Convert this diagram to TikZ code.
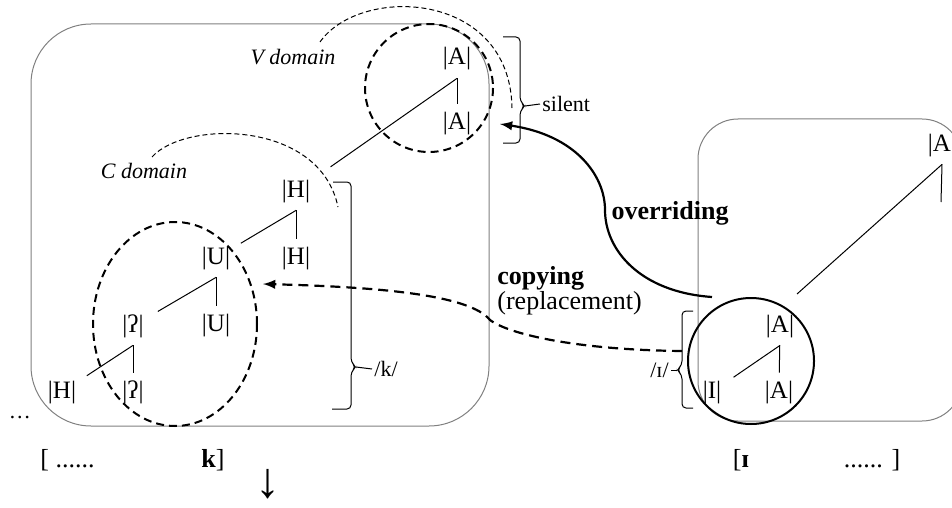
\documentclass[tikz,border=0pt]{standalone}
\usepackage{fontspec}
\setmainfont{Liberation Serif}
\usepackage{tikz}
\tikzstyle{elt}=[inner sep=3.5pt, text height=9pt, text depth=3pt, font=\fontsize{12.5}{14}\selectfont]
\tikzstyle{domain label}=[font=\fontsize{11}{13}\selectfont\itshape]
\tikzstyle{brace label}=[font=\fontsize{11}{13}\selectfont, inner sep=1pt]
\tikzstyle{arrow label}=[font=\fontsize{13}{15}\selectfont, inner sep=0pt]
\tikzstyle{line label}=[font=\fontsize{13}{15}\selectfont, inner sep=0pt]
\tikzstyle{box}=[draw=gray, line width=0.5pt, rounded corners=30pt]
\tikzstyle{tree edge}=[-, line width=0.5pt]
\tikzstyle{domain edge}=[-, dash pattern=on 2.5pt off 1.5pt, line width=0.5pt]
\tikzstyle{group}=[dash pattern=on 4pt off 2.5pt, line width=1pt]
\tikzstyle{bracket}=[-, line width=0.5pt, rounded corners=2pt]
\tikzstyle{override edge}=[-latex, line width=1.1pt]
\tikzstyle{copy edge}=[-latex, dash pattern=on 5pt off 3pt, line width=1.1pt]
\pgfdeclarelayer{nodelayer}
\pgfdeclarelayer{edgelayer}
\pgfsetlayers{edgelayer,nodelayer,main}

\begin{document}
\begin{tikzpicture}[x=0.5pt, y=-0.5pt]
	\useasboundingbox (0,0) rectangle (952,508);
	\clip (0,0) rectangle (952,508);
	\begin{pgfonlayer}{nodelayer}
		\node [style=elt] (0) at (457, 59) {|A|};
		\node [style=elt] (1) at (457, 123) {|A|};
		\node [style=elt] (2) at (296, 191) {|H|};
		\node [style=elt] (3) at (296, 258) {|H|};
		\node [style=elt] (4) at (216, 258) {|U|};
		\node [style=elt] (5) at (216, 325) {|U|};
		\node [style=elt] (6) at (133, 326) {|ʔ|};
		\node [style=elt] (7) at (133, 392) {|ʔ|};
		\node [style=elt] (8) at (62, 392) {|H|};
		\node [style=elt] (9) at (780, 326) {|A|};
		\node [style=elt] (10) at (712, 392) {|I|};
		\node [style=elt] (11) at (779, 392) {|A|};
		\node [style=elt] (12) at (942, 145) {|A|};
		\node [style=domain label] (13) at (293, 57) {V domain};
		\node [style=domain label] (14) at (144, 171) {C domain};
		\node [style=brace label, anchor=west] (15) at (540, 104) {silent};
		\node [style=brace label, anchor=west] (16) at (372, 369) {/k/};
		\node [style=brace label, anchor=east] (17) at (671, 370) {/ɪ/};
		\node [style=arrow label, font=\fontsize{13}{15}\selectfont\bfseries] (18) at (670, 213) {overriding};
		\node [style=arrow label, anchor=west, font=\fontsize{13}{15}\selectfont\bfseries] (19) at (497, 278) {copying};
		\node [style=arrow label, anchor=west] (20) at (497, 303) {(replacement)};
		\node [style=brace label] (21) at (20, 418) {…};
		\node [style=line label, anchor=west] (22) at (40, 460) {[ ......};
		\node [style=line label] (23) at (213, 460) {\textbf{k}]};
		\node [style=line label] (24) at (741, 460) {[\textbf{ɪ}};
		\node [style=line label] (25) at (872, 460) {...... ]};
		\node [style=line label, font=\fontsize{25}{27}\selectfont] (26) at (268, 484) {↓};
		\coordinate (a) at (941, 202);
		\coordinate (b) at (797, 294);
		\coordinate (c0) at (682, 351);
		\coordinate (c1) at (263, 284);
		\coordinate (o0) at (712, 297);
		\coordinate (o1) at (500, 124);
	\end{pgfonlayer}
	\begin{pgfonlayer}{edgelayer}
		\draw [style=box] (31, 24) rectangle (489, 426);
		\draw [style=box, rounded corners=20pt] (698, 119) rectangle (962, 421);
		\draw [style=tree edge] (0) to (1);
		\draw [style=tree edge, shorten >=8pt] (0.south) to (2);
		\draw [style=tree edge] (2) to (3);
		\draw [style=tree edge, shorten >=2pt] (2.south) to (4);
		\draw [style=tree edge] (4) to (5);
		\draw [style=tree edge, shorten >=4pt] (4.south) to (6);
		\draw [style=tree edge] (6) to (7);
		\draw [style=tree edge, shorten >=2pt] (6.south) to (8);
		\draw [style=tree edge] (9) to (11);
		\draw [style=tree edge, shorten >=3pt] (9.south) to (10);
		\draw [style=tree edge] (12.south) to (a);
		\draw [style=tree edge] (12.south) to (b);
		\draw [style=group] (429, 88) circle [radius=64];
		\draw [style=group] (175, 324) ellipse [x radius=82, y radius=102];
		\draw [line width=1pt] (751, 361) circle [radius=63];
		\draw [style=domain edge] (320, 42) .. controls (360, -15) and (510, -10) .. (512, 108);
		\draw [style=domain edge] (152, 157) .. controls (185, 120) and (320, 120) .. (338, 207);
		\draw [style=bracket] (503, 37) -- (520, 37) -- (520, 101) -- (525, 106) -- (520, 111) -- (520, 143) -- (503, 143);
		\draw [style=tree edge] (525, 106) -- (15.west);
		\draw [style=bracket] (333, 182) -- (351, 182) -- (351, 362) -- (356, 367) -- (351, 372) -- (351, 409) -- (332, 409);
		\draw [style=tree edge] (356, 367) -- (16.west);
		\draw [style=bracket] (693, 311) -- (682, 311) -- (682, 365) -- (677, 370) -- (682, 375) -- (682, 408) -- (693, 408);
		\draw [style=tree edge] (677, 370) -- (17.east);
		\draw [style=override edge] (o0) .. controls (640, 292) and (605, 250) .. (605, 210) .. controls (605, 175) and (575, 135) .. (o1);
		\draw [style=copy edge] (c0) .. controls (580, 350) and (510, 335) .. (490, 320) .. controls (470, 295) and (380, 287) .. (c1);
	\end{pgfonlayer}
\end{tikzpicture}
\end{document}
